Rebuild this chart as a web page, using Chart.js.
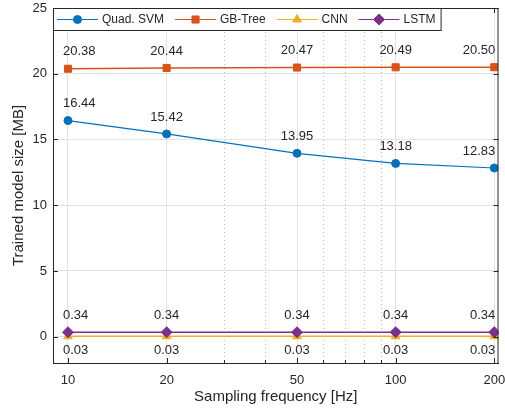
<!DOCTYPE html>
<html>
<head>
<meta charset="utf-8">
<script src="https://cdn.jsdelivr.net/npm/chart.js@4.4.0/dist/chart.umd.min.js"></script>
<style>
  body { margin: 0; background: #fff; }
  canvas { display: block; }
</style>
</head>
<body>
<canvas id="myChart" width="505" height="410"></canvas>
<script>
// sampling frequency in Hz
const frequencies = [10, 20, 50, 100, 200];
const xTicks = [10, 20, 50, 100, 200];
const xMinorTicks = [30, 40, 60, 70, 80, 90];
const yTicks = [0, 5, 10, 15, 20, 25];

// model sizes in MB
const quadSvm = [16.44, 15.42, 13.95, 13.18, 12.83];
const gbTree = [20.38, 20.44, 20.47, 20.49, 20.50];
const cnn = [0.03, 0.03, 0.03, 0.03, 0.03];
const lstm = [0.34, 0.34, 0.34, 0.34, 0.34];

const seriesNames = ['Quad. SVM', 'GB-Tree', 'CNN', 'LSTM'];
const seriesColors = ['#0072BD', '#D95319', '#EDB120', '#7E2F8E'];
const seriesMarkers = ['circle', 'rect', 'triangle', 'rectRot'];
const markerSizes = [4, 5, 5, 5.5];

const axisColor = '#262626';
const fontFamily = '"Liberation Sans", Arial, Helvetica, sans-serif';

function makeDataset(i, values, lineWidth, order) {
  return {
    label: seriesNames[i],
    data: frequencies.map((f, k) => ({ x: f, y: values[k] })),
    borderColor: seriesColors[i],
    backgroundColor: seriesColors[i],
    pointBackgroundColor: seriesColors[i],
    pointBorderColor: seriesColors[i],
    pointStyle: seriesMarkers[i],
    pointRadius: markerSizes[i],
    pointBorderWidth: 1,
    borderWidth: lineWidth,
    tension: 0,
    order: order,
  };
}

// extra axis bits: dotted minor grid, box, inward ticks
const axisExtras = {
  id: 'axisExtras',
  beforeDatasetsDraw(chart) {
    const { ctx, chartArea, scales } = chart;
    ctx.save();
    ctx.strokeStyle = '#bdbdbd';
    ctx.lineWidth = 1;
    ctx.setLineDash([1, 3]);
    xMinorTicks.forEach((v) => {
      const x = Math.round(scales.x.getPixelForValue(v)) + 0.5;
      ctx.beginPath();
      ctx.moveTo(x, chartArea.top);
      ctx.lineTo(x, chartArea.bottom);
      ctx.stroke();
    });
    ctx.restore();
  },
  afterDraw(chart) {
    const { ctx, chartArea, scales } = chart;
    const { left, right, top, bottom } = chartArea;
    ctx.save();
    ctx.strokeStyle = axisColor;
    ctx.lineWidth = 1;
    ctx.beginPath();
    ctx.moveTo(left, top + 0.5);
    ctx.lineTo(right, top + 0.5);
    ctx.moveTo(right - 0.5, top);
    ctx.lineTo(right - 0.5, bottom);
    // y ticks, both sides
    yTicks.forEach((v) => {
      const y = Math.round(scales.y.getPixelForValue(v)) + 0.5;
      ctx.moveTo(left, y);
      ctx.lineTo(left + 5, y);
      ctx.moveTo(right, y);
      ctx.lineTo(right - 5, y);
    });
    // x ticks, bottom and top
    xTicks.forEach((v) => {
      const x = Math.round(scales.x.getPixelForValue(v)) + 0.5;
      ctx.moveTo(x, bottom);
      ctx.lineTo(x, bottom - 5);
      ctx.moveTo(x, top);
      ctx.lineTo(x, top + 5);
    });
    xMinorTicks.forEach((v) => {
      const x = Math.round(scales.x.getPixelForValue(v)) + 0.5;
      ctx.moveTo(x, bottom);
      ctx.lineTo(x, bottom - 3);
      ctx.moveTo(x, top);
      ctx.lineTo(x, top + 3);
    });
    ctx.stroke();
    ctx.restore();
  },
};

// value labels next to each marker
const valueLabels = {
  id: 'valueLabels',
  afterDatasetsDraw(chart) {
    const { ctx } = chart;
    ctx.save();
    ctx.font = '13px ' + fontFamily;
    ctx.fillStyle = axisColor;
    ctx.textBaseline = 'middle';
    chart.data.datasets.forEach((ds, i) => {
      const meta = chart.getDatasetMeta(i);
      const below = ds.label === 'CNN';
      meta.data.forEach((pt, k) => {
        const last = k === meta.data.length - 1;
        let x = pt.x;
        if (k === 0) { ctx.textAlign = 'left'; x = pt.x - 5; }
        else if (last) { ctx.textAlign = 'right'; x = pt.x + 1; }
        else { ctx.textAlign = 'center'; }
        const y = below ? pt.y + 14 : pt.y - 17;
        ctx.fillText(ds.data[k].y.toFixed(2), x, y);
      });
    });
    ctx.restore();
  },
};

// legend box inside the axes, top-left
const boxLegend = {
  id: 'boxLegend',
  afterDraw(chart) {
    const { ctx, chartArea } = chart;
    const top = chartArea.top;
    const h = 22;
    const cy = top + 11;
    ctx.save();
    ctx.font = '12px ' + fontFamily;
    let x = chartArea.left + 4;
    const items = [];
    seriesNames.forEach((name, i) => {
      const w = ctx.measureText(name).width;
      items.push({ i, name, x, w });
      x += 41 + 4 + w + 11;
    });
    const boxRight = x - 11 + 5;
    ctx.fillStyle = '#fff';
    ctx.fillRect(chartArea.left, top, boxRight - chartArea.left, h);
    ctx.strokeStyle = axisColor;
    ctx.lineWidth = 1;
    ctx.strokeRect(chartArea.left + 0.5, top + 0.5, boxRight - chartArea.left, h);
    items.forEach((it) => {
      const col = seriesColors[it.i];
      ctx.strokeStyle = col;
      ctx.lineWidth = 1;
      ctx.beginPath();
      ctx.moveTo(it.x, cy + 0.5);
      ctx.lineTo(it.x + 41, cy + 0.5);
      ctx.stroke();
      ctx.fillStyle = col;
      Chart.helpers.drawPoint(ctx, {
        pointStyle: seriesMarkers[it.i],
        radius: markerSizes[it.i],
        rotation: 0,
        borderWidth: 1,
      }, it.x + 20.5, cy + 0.5);
      ctx.fillStyle = axisColor;
      ctx.textAlign = 'left';
      ctx.textBaseline = 'middle';
      ctx.fillText(it.name, it.x + 45, cy + 1);
    });
    ctx.restore();
  },
};

const ctx = document.getElementById('myChart');
new Chart(ctx, {
  type: 'line',
  data: {
    datasets: [
      makeDataset(0, quadSvm, 1.2, 3),
      makeDataset(1, gbTree, 1.5, 2),
      makeDataset(2, cnn, 1.5, 1),
      makeDataset(3, lstm, 1.5, 0),
    ],
  },
  options: {
    responsive: false,
    animation: false,
    layout: { padding: { top: 8, right: 6, left: 0, bottom: 0 } },
    plugins: {
      legend: { display: false },
      tooltip: { enabled: false },
    },
    scales: {
      x: {
        type: 'logarithmic',
        min: 9,
        max: 206,
        afterBuildTicks: (scale) => {
          scale.ticks = xTicks.map((v) => ({ value: v }));
        },
        afterFit: (scale) => {
          scale.height = 47;
          scale.paddingLeft = 0;
          scale.paddingRight = 0;
        },
        ticks: {
          callback: (value) => String(value),
          font: { size: 13, family: fontFamily },
          color: axisColor,
          padding: 10,
          maxRotation: 0,
          autoSkip: false,
        },
        grid: { color: '#e3e3e3', drawTicks: false, lineWidth: 1 },
        border: { display: true, color: axisColor, width: 1 },
        title: {
          display: true,
          text: 'Sampling frequency [Hz]',
          font: { size: 15, family: fontFamily },
          color: axisColor,
          padding: { top: 0, bottom: 4 },
        },
      },
      y: {
        type: 'linear',
        min: -2,
        max: 25,
        afterBuildTicks: (scale) => {
          scale.ticks = yTicks.map((v) => ({ value: v }));
        },
        afterFit: (scale) => {
          scale.width = 53;
          scale.paddingTop = 0;
          scale.paddingBottom = 0;
        },
        ticks: {
          font: { size: 13, family: fontFamily },
          color: axisColor,
          padding: 6,
        },
        grid: { color: '#e3e3e3', drawTicks: false, lineWidth: 1 },
        border: { display: true, color: axisColor, width: 1 },
        title: {
          display: true,
          text: 'Trained model size [MB]',
          font: { size: 15, family: fontFamily },
          color: axisColor,
          padding: { top: 10, bottom: 0 },
        },
      },
    },
  },
  plugins: [axisExtras, valueLabels, boxLegend],
});
</script>
</body>
</html>
